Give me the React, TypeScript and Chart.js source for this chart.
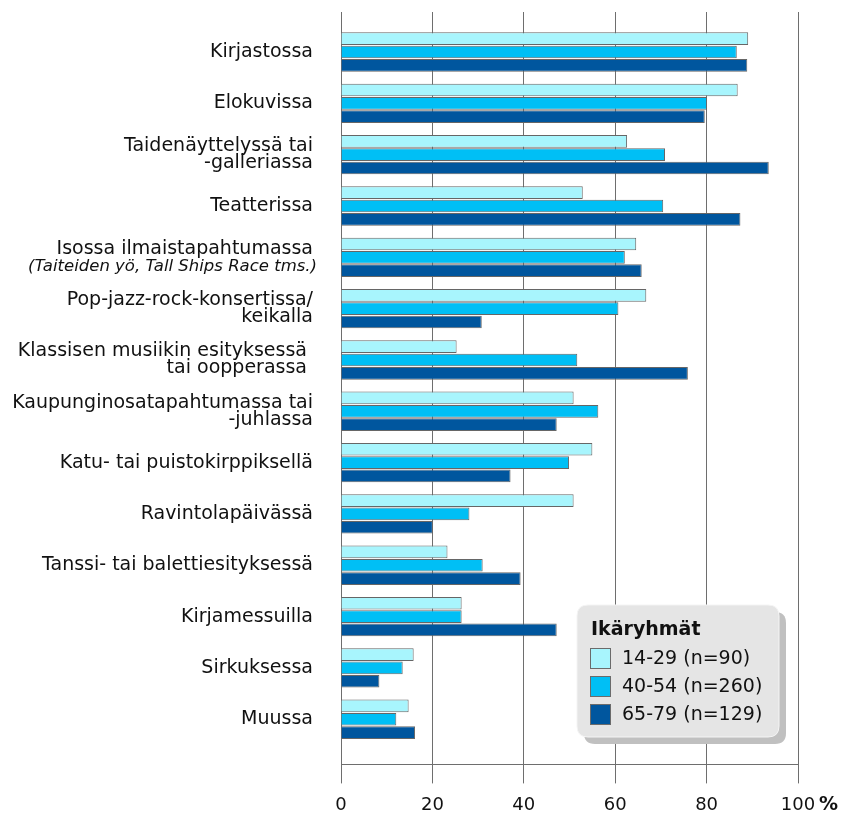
import React, { useEffect, useRef } from "react";
import { Chart, registerables } from "chart.js";

Chart.register(...registerables);

const categories: string[][] = [
  ["Kirjastossa"],
  ["Elokuvissa"],
  ["Taidenäyttelyssä tai", "-galleriassa"],
  ["Teatterissa"],
  ["Isossa ilmaistapahtumassa"],
  ["Pop-jazz-rock-konsertissa/", "keikalla"],
  ["Klassisen musiikin esityksessä ", "tai oopperassa "],
  ["Kaupunginosatapahtumassa tai", "-juhlassa"],
  ["Katu- tai puistokirppiksellä"],
  ["Ravintolapäivässä"],
  ["Tanssi- tai balettiesityksessä"],
  ["Kirjamessuilla"],
  ["Sirkuksessa"],
  ["Muussa"],
];
const italicNotes: Record<number, string> = {
  4: "(Taiteiden yö, Tall Ships Race tms.)",
};

const seriesNames = ["14-29 (n=90)", "40-54 (n=260)", "65-79 (n=129)"];
const age14_29 = [89.1, 86.8, 62.6, 52.9, 64.6, 66.8, 25.3, 50.9, 55.0, 50.9, 23.3, 26.4, 15.9, 14.8];
const age40_54 = [86.6, 80.1, 70.9, 70.5, 62.1, 60.7, 51.7, 56.3, 49.9, 28.1, 31.0, 26.4, 13.5, 12.1];
const age65_79 = [88.9, 79.6, 93.6, 87.4, 65.8, 30.8, 75.9, 47.2, 37.1, 20.1, 39.3, 47.2, 8.4, 16.2];
const seriesColors = ["#a8f5fd", "#00bff5", "#00569e"];
const xTicks = [0, 20, 40, 60, 80, 100];
const legendTitle = "Ikäryhmät";
const unitLabel = "%";

const FONT = "'DejaVu Sans', Verdana, sans-serif";

function rrect(ctx: CanvasRenderingContext2D, x: number, y: number, w: number, h: number, r: number) {
  ctx.beginPath();
  ctx.moveTo(x + r, y);
  ctx.lineTo(x + w - r, y);
  ctx.quadraticCurveTo(x + w, y, x + w, y + r);
  ctx.lineTo(x + w, y + h - r);
  ctx.quadraticCurveTo(x + w, y + h, x + w - r, y + h);
  ctx.lineTo(x + r, y + h);
  ctx.quadraticCurveTo(x, y + h, x, y + h - r);
  ctx.lineTo(x, y + r);
  ctx.quadraticCurveTo(x, y, x + r, y);
  ctx.closePath();
}

const labelPlugin = {
  id: "customLabels",
  afterDraw(chart: any) {
    const ctx: CanvasRenderingContext2D = chart.ctx;
    const ys = chart.scales.y;
    const xs = chart.scales.x;
    ctx.save();
    ctx.fillStyle = "#111";
    ctx.textAlign = "right";
    ctx.textBaseline = "middle";
    const xr = 313;
    const lh = 17;
    categories.forEach((lines, i) => {
      const cy = ys.getPixelForValue(i);
      const all: { t: string; italic: boolean }[] = lines.map((t) => ({ t, italic: false }));
      if (italicNotes[i]) all.push({ t: italicNotes[i], italic: true });
      const n = all.length;
      const start = cy - ((n - 1) * lh) / 2;
      all.forEach((l, k) => {
        ctx.font = l.italic ? `italic 16.5px ${FONT}` : `19px ${FONT}`;
        ctx.fillText(l.t, l.italic ? xr + 4 : xr, start + k * lh + (l.italic ? 1 : 0));
      });
    });
    // percent sign
    ctx.textAlign = "left";
    ctx.font = `bold 19px ${FONT}`;
    ctx.fillText(unitLabel, xs.getPixelForValue(100) + 21, 805);

    // legend
    const bx = 577, by = 605, bw = 202, bh = 132;
    ctx.fillStyle = "#c0c0c0";
    rrect(ctx, bx + 7, by + 7, bw, bh, 11);
    ctx.fill();
    ctx.fillStyle = "#e5e5e5";
    rrect(ctx, bx, by, bw, bh, 11);
    ctx.fill();
    ctx.strokeStyle = "#f4f4f4";
    ctx.lineWidth = 1;
    ctx.stroke();
    ctx.fillStyle = "#111";
    ctx.font = `bold 19px ${FONT}`;
    ctx.textBaseline = "middle";
    ctx.fillText(legendTitle, 591, 630);
    ctx.font = `19px ${FONT}`;
    const rows = [658, 686, 714];
    seriesNames.forEach((name, k) => {
      ctx.fillStyle = seriesColors[k];
      ctx.fillRect(590.5, rows[k] - 10, 20, 20);
      ctx.strokeStyle = "#6b6b6b";
      ctx.strokeRect(590.5, rows[k] - 9.5, 20, 20);
      ctx.fillStyle = "#111";
      ctx.fillText(name, 622, rows[k] + 1);
    });
    ctx.restore();
  },
};

export default function App() {
  const ref = useRef<HTMLCanvasElement>(null);
  useEffect(() => {
    document.body.style.margin = "0";
    const seriesData = [age14_29, age40_54, age65_79];
    const chart = new Chart(ref.current!, {
      type: "bar",
      data: {
        datasets: seriesData.map((vals, k) => ({
          label: seriesNames[k],
          data: vals.map((v, i) => ({ x: v, y: i })),
          backgroundColor: seriesColors[k],
          borderColor: "#666",
          borderWidth: 1,
          categoryPercentage: 0.78,
          barPercentage: 0.95,
        })),
      },
      options: {
        animation: false,
        responsive: false,
        devicePixelRatio: 1,
        indexAxis: "y",
        layout: { padding: { left: 341, right: 47, top: 12, bottom: -12 } },
        plugins: { legend: { display: false }, tooltip: { enabled: false } },
        scales: {
          x: {
            type: "linear",
            min: 0,
            max: 100,
            position: "bottom",
            afterBuildTicks: (s: any) => {
              s.ticks = xTicks.map((v) => ({ value: v }));
            },
            ticks: { font: { family: FONT, size: 18 }, color: "#111", padding: 11 },
            grid: { color: "#6e6e6e", lineWidth: 1, tickLength: 19, drawTicks: true },
            border: { display: true, color: "#6e6e6e" },
          },
          y: {
            type: "linear",
            min: -0.78,
            max: 13.88,
            reverse: true,
            offset: false,
            display: false,
            grid: { offset: false },
            afterBuildTicks: (s: any) => {
              s.ticks = categories.map((_, i) => ({ value: i }));
            },
          },
        },
      } as any,
      plugins: [labelPlugin],
    });
    return () => chart.destroy();
  }, []);
  return <canvas ref={ref} width={845} height={815} style={{ display: "block" }} />;
}
